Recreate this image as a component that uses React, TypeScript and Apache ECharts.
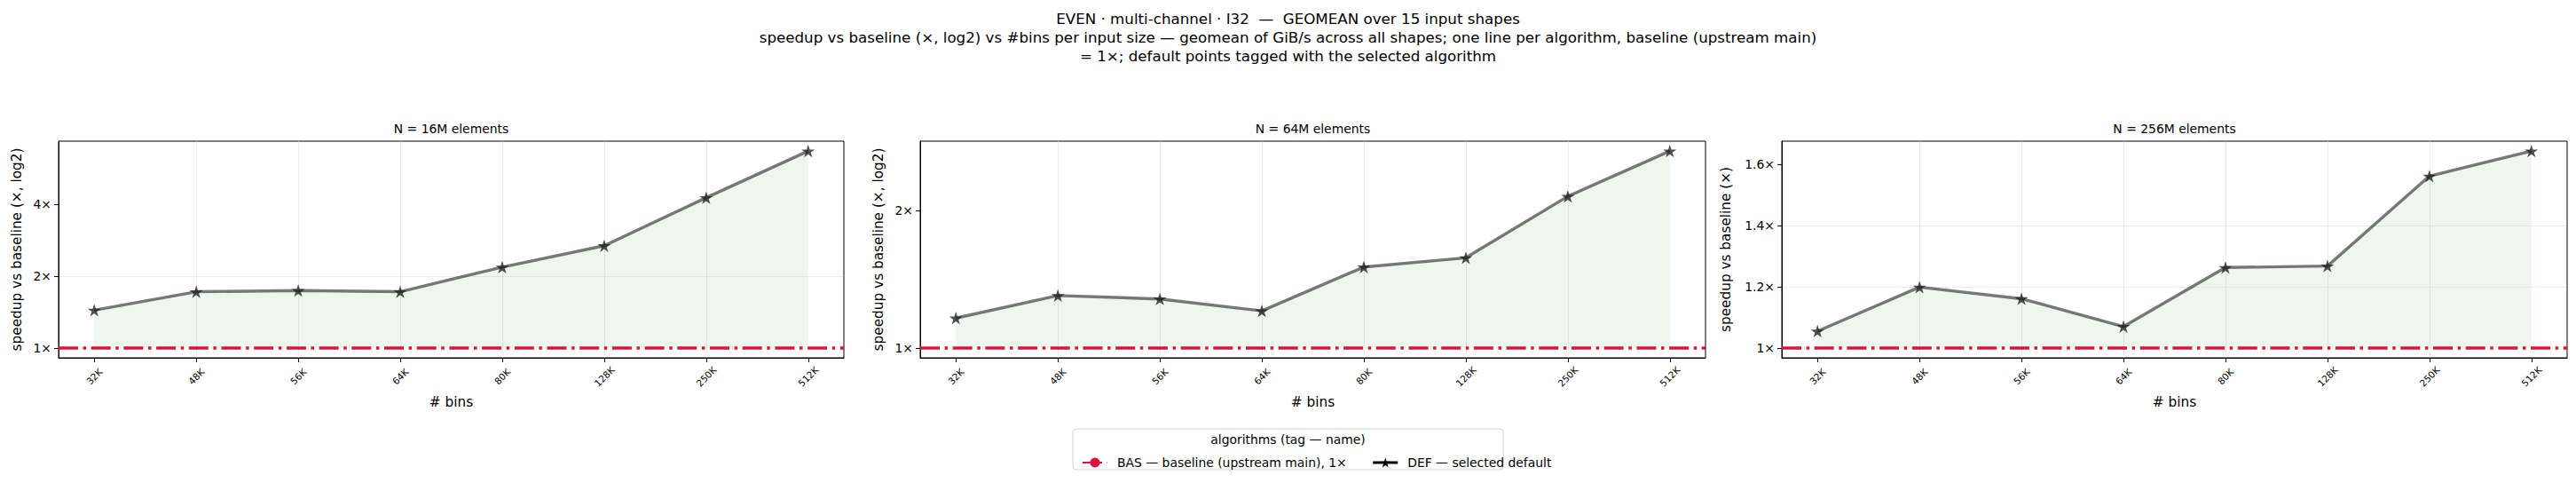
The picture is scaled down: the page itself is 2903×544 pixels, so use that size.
import { useEffect, useRef } from 'react';
import * as echarts from 'echarts';

const BINS = ['32K', '48K', '56K', '64K', '80K', '128K', '250K', '512K'];
const PANEL_TITLES = ['N = 16M elements', 'N = 64M elements', 'N = 256M elements'];
const SPEEDUP_16M = [1.44, 1.72, 1.74, 1.72, 2.18, 2.68, 4.26, 6.68];
const SPEEDUP_64M = [1.163, 1.303, 1.281, 1.206, 1.505, 1.577, 2.151, 2.704];
const SPEEDUP_256M = [1.055, 1.199, 1.161, 1.07, 1.263, 1.268, 1.562, 1.644];
const PANEL_VALUES = [SPEEDUP_16M, SPEEDUP_64M, SPEEDUP_256M];
const BASELINE = 1;
const Y_NAMES = ['speedup vs baseline (×, log2)', 'speedup vs baseline (×, log2)', 'speedup vs baseline (×)'];
const LOG_PANELS = [true, true, false];
const LIN_TICKS = [1, 1.2, 1.4, 1.6];
const BAS_NAME = 'BAS — baseline (upstream main), 1×';
const DEF_NAME = 'DEF — selected default';
const TITLE_LINES = [
  'EVEN · multi-channel · I32  —  GEOMEAN over 15 input shapes',
  'speedup vs baseline (×, log2) vs #bins per input size — geomean of GiB/s across all shapes; one line per algorithm, baseline (upstream main)',
  '= 1×; default points tagged with the selected algorithm',
];

const FONT = 'DejaVu Sans';
const GRID_LEFT = [66, 1037, 2008];
const GRID_TOP = 159;
const GRID_W = 885;
const GRID_H = 244;
const STAR = 'path://M100,0 L122.45,69.1 L195.11,69.1 L136.33,111.8 L158.78,180.9 L100,138.2 L41.22,180.9 L63.67,111.8 L4.89,69.1 L77.55,69.1 Z';
const CRIMSON = '#dc143c';
const DASHDOT = [22, 5.6, 3.5, 5.6];

function isNear(a: number, b: number) {
  return Math.abs(a - b) < 1e-6;
}

export default function App() {
  const ref = useRef<HTMLDivElement>(null);
  useEffect(() => {
    if (!ref.current) return;
    const chart = echarts.init(ref.current, undefined, { renderer: 'svg' });
    const grids: any[] = [];
    const xAxes: any[] = [];
    const yAxes: any[] = [];
    const series: any[] = [];
    const graphics: any[] = [];
    const nPts = BINS.length;
    const xPad = 0.05 * (nPts - 1);

    PANEL_VALUES.forEach((vals, p) => {
      grids.push({
        left: GRID_LEFT[p], top: GRID_TOP, width: GRID_W, height: GRID_H,
        show: true, borderColor: '#000', borderWidth: 1, backgroundColor: 'transparent',
      });
      xAxes.push({
        type: 'value', gridIndex: p, min: -xPad, max: nPts - 1 + xPad,
        minInterval: 1, maxInterval: 1, splitNumber: 7,
        name: '# bins', nameLocation: 'middle', nameGap: 42,
        nameTextStyle: { fontFamily: FONT, fontSize: 15.3, color: '#000' },
        axisLine: { show: true, onZero: false, lineStyle: { color: '#000', width: 1 } },
        axisTick: { show: true, length: 5, lineStyle: { color: '#000' }, customValues: BINS.map((_, i) => i) },
        axisLabel: {
          rotate: 45, align: 'center', verticalAlign: 'middle', margin: 21,
          fontFamily: FONT, fontSize: 10.5, color: '#000',
          customValues: BINS.map((_, i) => i),
          formatter: (v: number) => (Number.isInteger(v) && BINS[v] !== undefined ? BINS[v] : ''),
        },
        splitLine: { show: true, showMinLine: false, showMaxLine: false, lineStyle: { color: '#cfcfcf', type: 'dotted', width: 0.8 } },
      });
      const isLog = LOG_PANELS[p];
      let yAxis: any;
      if (isLog) {
        const L = Math.log2(Math.max(...vals, BASELINE));
        const L0 = Math.log2(Math.min(...vals, BASELINE));
        const span = L - L0;
        const powers: number[] = [];
        for (let k = Math.ceil(L0 - 0.05 * span); k <= Math.floor(L + 0.05 * span); k++) powers.push(Math.pow(2, k));
        yAxis = {
          type: 'log', logBase: 2, gridIndex: p,
          min: Math.pow(2, L0 - 0.05 * span), max: Math.pow(2, L + 0.05 * span),
          axisTick: { show: true, length: 5, lineStyle: { color: '#000' }, customValues: powers },
          axisLabel: {
            customValues: powers,
            formatter: (v: number) => {
              const e = Math.log2(v);
              return isNear(e, Math.round(e)) ? `${Math.round(v)}×` : '';
            },
          },
        };
      } else {
        const hi = Math.max(...vals, BASELINE);
        const lo = Math.min(...vals, BASELINE);
        const span = hi - lo;
        yAxis = {
          type: 'value', gridIndex: p, min: lo - 0.05 * span, max: hi + 0.05 * span,
          minInterval: 0.2, maxInterval: 0.2,
          axisTick: { show: true, length: 5, lineStyle: { color: '#000' }, customValues: LIN_TICKS },
          axisLabel: {
            customValues: LIN_TICKS,
            formatter: (v: number) => {
              const r = Math.round(v * 10) / 10;
              return LIN_TICKS.some((t) => isNear(t, v)) ? `${r}×` : '';
            },
          },
        };
      }
      yAxes.push({
        ...yAxis,
        name: Y_NAMES[p], nameLocation: 'middle', nameGap: isLog ? 40 : 56,
        nameTextStyle: { fontFamily: FONT, fontSize: 15.3, color: '#000' },
        axisLine: { show: true, onZero: false, lineStyle: { color: '#000', width: 1 } },
        axisLabel: { ...yAxis.axisLabel, fontFamily: FONT, fontSize: 13.9, color: '#000', margin: 8 },
        splitLine: { show: true, showMinLine: false, showMaxLine: false, lineStyle: { color: '#cfcfcf', type: 'dotted', width: 0.8 } },
      });
      series.push({
        type: 'line', name: DEF_NAME, xAxisIndex: p, yAxisIndex: p,
        data: vals.map((v, i) => [i, v]),
        symbol: STAR, symbolSize: 15, symbolKeepAspect: true,
        itemStyle: { color: 'rgba(30,30,30,0.78)' },
        lineStyle: { color: 'rgba(0,0,0,0.52)', width: 3.4 },
        areaStyle: { color: 'rgba(44,160,44,0.12)', origin: BASELINE },
        z: 3,
      });
      series.push({
        type: 'line', name: BAS_NAME, xAxisIndex: p, yAxisIndex: p,
        data: [], symbol: 'circle', symbolSize: 9,
        itemStyle: { color: CRIMSON },
        lineStyle: { color: CRIMSON, width: 3.5, type: DASHDOT },
        markLine: {
          silent: true, symbol: ['none', 'none'], label: { show: false },
          lineStyle: { color: CRIMSON, width: 3.5, type: DASHDOT },
          data: [{ yAxis: BASELINE }],
        },
        z: 4,
      });
      graphics.push({
        type: 'text', x: GRID_LEFT[p] + GRID_W / 2, y: 145,
        style: { text: PANEL_TITLES[p], fontFamily: FONT, fontSize: 13.9, fill: '#000', align: 'center', verticalAlign: 'middle' },
      });
    });

    graphics.push({
      type: 'text', x: 1451.5, y: 10,
      style: {
        text: TITLE_LINES.join('\n'), fontFamily: FONT, fontSize: 16.7, lineHeight: 21,
        fill: '#000', align: 'center', verticalAlign: 'top',
      },
    });
    graphics.push({
      type: 'rect', shape: { x: 1209, y: 483, width: 485, height: 46, r: 4 },
      style: { fill: 'rgba(255,255,255,0.8)', stroke: '#d3d3d3', lineWidth: 1 }, z: 0,
    });
    graphics.push({
      type: 'text', x: 1451.5, y: 495,
      style: { text: 'algorithms (tag — name)', fontFamily: FONT, fontSize: 13.9, fill: '#000', align: 'center', verticalAlign: 'middle' },
      z: 1,
    });

    chart.setOption({
      animation: false,
      backgroundColor: '#fff',
      legend: {
        left: 1214, top: 509, orient: 'horizontal', itemWidth: 28, itemHeight: 14, itemGap: 28,
        textStyle: { fontFamily: FONT, fontSize: 13.9, color: '#000', padding: [0, 0, 0, 6] },
        data: [
          { name: BAS_NAME },
          { name: DEF_NAME, itemStyle: { color: '#000' }, lineStyle: { color: '#000', width: 3 } },
        ],
        z: 5,
      },
      grid: grids,
      xAxis: xAxes,
      yAxis: yAxes,
      series,
      graphic: graphics,
    });
    return () => chart.dispose();
  }, []);
  return <div ref={ref} style={{ position: 'absolute', left: 0, top: 0, width: 2903, height: 544 }} />;
}
